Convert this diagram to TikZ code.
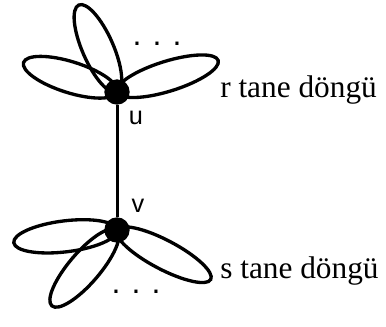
\documentclass[tikz,border=0pt]{standalone}
\usepackage{fontspec}
\setmainfont{Liberation Serif}
\setsansfont{Liberation Sans}
\usetikzlibrary{backgrounds}
\definecolor{ink}{HTML}{000000}

\tikzset{
  vertex/.style={circle, fill=ink, inner sep=0pt, minimum size=19pt},
  petal/.style={draw=ink, line width=2.5pt},
  vlabel/.style={font=\sffamily\fontsize{19}{19}\selectfont, text=ink, inner sep=0pt},
  dots/.style={font=\sffamily\fontsize{24}{24}\selectfont, text=ink, inner sep=0pt},
  countlabel/.style={font=\fontsize{23.5}{24}\selectfont, text=ink, inner sep=0pt, anchor=base west}
}

\begin{document}
\begin{tikzpicture}[x=0.75pt, y=0.75pt]
  % canvas is 386 x 327 px, y pointing up
  \useasboundingbox (0,0) rectangle (386,327);
  % Vertices
  \node[vertex] (u) at (117,235) {};
  \node[vertex] (v) at (117,97) {};
  \draw[petal, line width=2.25pt] (u) -- (v);
  % Loops (angle/length/width), behind the vertices
  \begin{scope}[on background layer]
    \foreach \ang/\len/\wid in {162.5/98/31, 113.7/95/31, 17.3/106/30}{
      \draw[petal, rotate around={\ang:(u.center)}] (u.center)
        arc[start angle=180, end angle=-180, x radius=\len/2, y radius=\wid/2];
    }
    \foreach \ang/\len/\wid in {187/104/31, 229.4/100/31, -27.8/106/29}{
      \draw[petal, rotate around={\ang:(v.center)}] (v.center)
        arc[start angle=180, end angle=-180, x radius=\len/2, y radius=\wid/2];
    }
  \end{scope}
  % Labels
  \node[vlabel] (ulabel) at (136,209) {u};
  \node[vlabel] (vlabel) at (138,121) {v};
  \node[dots] (udots) at (157,283) {.\hspace{8.3pt}.\hspace{8.3pt}.};
  \node[dots] (vdots) at (136,35) {.\hspace{8.3pt}.\hspace{8.3pt}.};
  \node[countlabel] (rcount) at (220,229) {r tane döngü};
  \node[countlabel] (scount) at (220,48) {s tane döngü};
\end{tikzpicture}
\end{document}
